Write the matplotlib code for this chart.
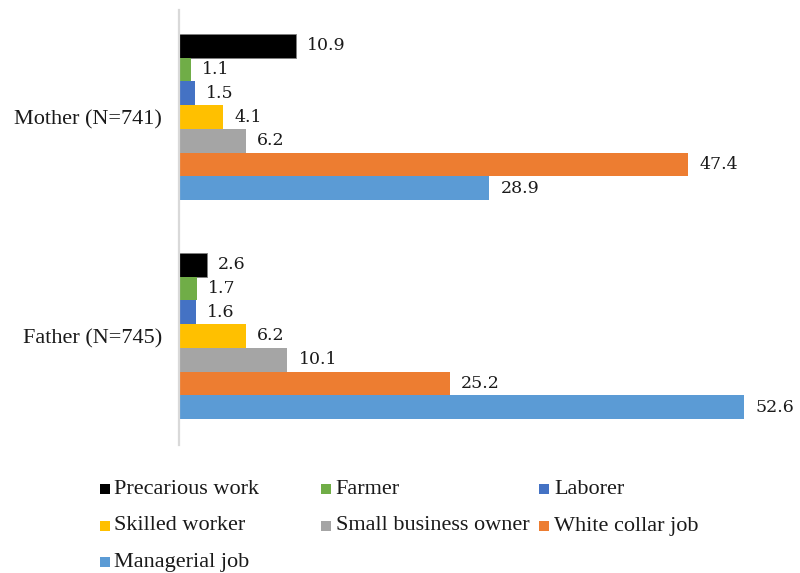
import matplotlib
matplotlib.use("Agg")
import matplotlib.pyplot as plt
from matplotlib.patches import Rectangle

# Occupation shares (%) by parent
groups = ["Mother (N=741)", "Father (N=745)"]
categories = ["Precarious work", "Farmer", "Laborer", "Skilled worker",
              "Small business owner", "White collar job", "Managerial job"]
mother = [10.9, 1.1, 1.5, 4.1, 6.2, 47.4, 28.9]
father = [2.6, 1.7, 1.6, 6.2, 10.1, 25.2, 52.6]
colors = ["#000000", "#70AD47", "#4472C4", "#FFC000",
          "#A5A5A5", "#ED7D31", "#5B9BD5"]

plt.rcParams["font.family"] = ["Liberation Serif", "DejaVu Serif"]

W, H = 800, 573
fig = plt.figure(figsize=(W / 100, H / 100), dpi=100)
fig.patch.set_facecolor("white")

ax_left, ax_right = 179 / W, 800 / W
ax_bottom, ax_top = 1 - 445 / H, 1 - 10 / H
ax = fig.add_axes([ax_left, ax_bottom, ax_right - ax_left, ax_top - ax_bottom])

bar_h = 0.1083
values = [mother, father]
for g, vals in enumerate(values):
    for i, (v, c) in enumerate(zip(vals, colors)):
        y = g + (i - 3) * bar_h
        ax.barh(y, v, height=bar_h, color=c,
                edgecolor="#7f7f7f" if c == "#000000" else "none",
                linewidth=0.6 if c == "#000000" else 0)
        ax.annotate(f"{v:.1f}", xy=(v, y), xytext=(8, 0),
                    textcoords="offset points", ha="left", va="center",
                    fontsize=12.5, family="DejaVu Serif", color="#1a1a1a",
                    annotation_clip=False)

px_per_unit = (744 - 179) / 52.6
ax.set_xlim(0, (800 - 179) / px_per_unit)
ax.set_ylim(1.498, -0.489)

ax.set_yticks([0, 1])
ax.set_yticklabels(groups, fontsize=16, color="#1a1a1a")
ax.tick_params(axis="y", length=0, pad=12)
ax.set_xticks([])

for side in ["top", "right", "bottom"]:
    ax.spines[side].set_visible(False)
ax.spines["left"].set_color("#D9D9D9")
ax.spines["left"].set_linewidth(1.6)

# Legend laid out in three fixed-width columns
col_x = [104.5, 325.5, 544]
row_y = [489, 526, 562]
sq = 10
for k, (name, c) in enumerate(zip(categories, colors)):
    r, cidx = divmod(k, 3)
    x, y = col_x[cidx], row_y[r]
    fig.patches.append(Rectangle(((x - sq / 2) / W, 1 - (y + sq / 2) / H),
                                 sq / W, sq / H, transform=fig.transFigure,
                                 facecolor=c, edgecolor="none"))
    fig.text((x + 10) / W, 1 - y / H, name, ha="left", va="center",
             fontsize=16, color="#1a1a1a")

fig.savefig("out.png", dpi=100, facecolor="white")
